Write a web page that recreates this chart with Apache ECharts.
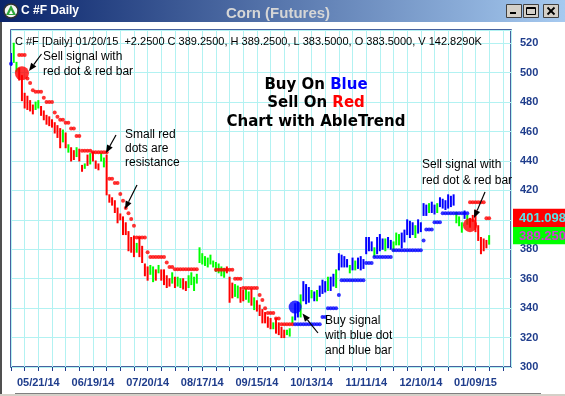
<!DOCTYPE html>
<html><head><meta charset="utf-8">
<script src="https://cdn.jsdelivr.net/npm/echarts@6/dist/echarts.min.js"></script>
<style>html,body{margin:0;padding:0;background:#fff;overflow:hidden}#c{width:565px;height:396px}</style>
</head><body><div id="c"></div>
<script>
// ---- tick labels ----
const xLabels = ['05/21/14','06/19/14','07/20/14','08/17/14','09/15/14','10/13/14','11/11/14','12/10/14','01/09/15'];
const firstLabelIndex = 10;
const labelStep = 20;

// ---- daily bars (high / low / colour: r = sell, g = neutral, b = buy) ----
const barHigh = [
513,520,507,503,498,486,484,481,478,480,
481,477,474,471,470,468,466,464,462,461,
459,451,449,447,449,448,437,438,444,445,
446,440,438,445,442,444,417,415,413,408,
404,402,398,392,388,389,384,388,382,370,
368,369,368,366,369,366,366,362,360,364,
361,361,360,360,358,362,364,361,363,381,
377,375,374,376,372,371,370,368,367,368,
361,357,356,355,354,352,353,351,353,347,
345,342,339,337,334,333,330,333,330,327,
325,325,326,334,343,344,349,358,356,354,
352,351,352,355,359,358,361,361,363,366,
377,376,375,373,369,374,372,374,375,373,
388,388,385,381,388,390,387,387,388,386,
385,391,390,391,393,400,399,398,396,400,
398,411,410,411,412,410,411,415,414,413,
417,416,417,405,402,398,406,403,401,403,
406.6,396,388,387,386,389.25];
const barLow = [
505,507,501,495,481,476,475,474,472,475,
476,471,468,465,464,463,459,456,449,453,
449,446,440,441,443,440,433,435,437,438,
440,435,434,440,436,417,412,410,405,398,
400,390,390,379,378,375,378,375,371,362,
359,363,358,359,364,359,356,354,355,357,
354,355,354,353,352,354,356,352,357,371,
370,369,368,370,368,365,364,362,361,364,
344,347,348,347,344,345,346,344,342,339,
338,335,330,330,327,326,326,323,322,320,
320,322,321,330,332,334,334,345,343,344,
347,345,345,348,350,351,352,352,355,354,
366,368,368,368,364,366,366,367,366,367,
377,379,379,375,377,379,380,379,381,380,
379,383,383,381,385,390,388,390,388,391,
392,403,403,405,405,404,405,409,408,407,
408,409,410,398,396,391.6,401,397,395,399,
392,386,377,379,381,383.5];
const barColor = ('bggrrrrrrg'+'grrrrrrrrg'+'rgrrgrrgrg'+'rrrggrrrrr'+'rrrrrrgrrr'+
  'rggrgrrrrg'+'rggrrggggg'+'gggggggggr'+'rrggrrggrg'+'rrrrrrgrrr'+
  'rgggbbgbbb'+'gbgbbbgbbg'+'bbbbgbgbbb'+'bbbgbbbgbb'+'gggbbbbbgb'+
  'bbbgbbgbbb'+'bbbgggbgrr'+'rrrrrg').split('');

// ---- AbleTrend stop dots (value per bar, colour per bar) ----
const stopValue = [
506,null,null,512,512,512,496,493,488,487,
487,487,483,480,480,480,473,470,468,468,
466,466,462,462,457,457,447,447,447,447,
446,446,446,446,446,446,428,428,425,425,
417.5,413,408,404.5,400.5,396,388,388,388,388,
378,374.7,374.7,374.7,374.7,374.7,374.7,371,368,368,
366.5,366.5,366.5,366.5,366.5,366.5,366.5,366.5,366.5,null,
null,null,null,null,null,366,366,366,366,366,
366,366,360,360,360,353.6,353.6,353.6,353.6,353.6,
353.6,349,345.5,340,336.7,336.7,336.7,333,333,329,
329,329,329,329,329,329,329,329,329,329,
329,329,329,329,334,334,340,340,340,340,
349,359,359,359,359,359,359,359,359,359,
370.6,370.6,370.6,374.7,374.7,374.7,374.7,374.7,374.7,374.7,
379.4,379.4,379.4,379.4,379.4,379.4,379.4,379.4,379.4,379.4,
379.4,386,393.5,393.5,393.5,398.4,398.4,398.4,404.5,404.5,
404.5,404.5,404.5,404.5,404.5,404.5,404.5,404.5,412,412,
412,412,412,412,401.1,401.1];
const stopColor = ('b..rrrrrrr'+'rrrrrrrrrr'+'rrrrrrrrrr'+'rrrrrrrrrr'+'rrrrrrrrrr'+
  'rrrrrrrrrr'+'rrrrrrrrr.'+'.....rrrrr'+'rrrrrrrrrr'+'rrrrrrrrrr'+
  'rrrrbbbbbb'+'bbbbbbbbbb'+'bbbbbbbbbb'+'bbbbbbbbbb'+'bbbbbbbbbb'+
  'bbbbbbbbbb'+'bbbbbbbbrr'+'rrrrrr').split('');

// ---- signals [bar index, price] ----
const sellSignals = [[4, 499.6], [168, 396.4]];
const buySignals = [[104, 340.7]];
const lastStop = 401.098;
const lastClose = 389.25;

const COL = {r:'#ff0000', g:'#00ff00', b:'#0000ff'};
const AX = '#1f3d8c';
const FONT = '"Liberation Sans", Arial, sans-serif';

const barData = barHigh.map((h, i) => [i, h, barLow[i]]);
const redDots = [], blueDots = [];
stopValue.forEach((v, i) => { if (v == null) return; (stopColor[i] === 'r' ? redDots : blueDots).push([i, v]); });

function renderBar(params, api) {
  const i = api.value(0);
  const hi = api.coord([i, api.value(1)]);
  const lo = api.coord([i, api.value(2)]);
  return {type:'line', shape:{x1:hi[0], y1:hi[1]-0.5, x2:lo[0], y2:lo[1]+0.5},
    style:{stroke: COL[barColor[params.dataIndex]], lineWidth: 2}};
}

const chart = echarts.init(document.getElementById('c'), null, {renderer:'canvas', width:565, height:396});
chart.setOption({
  animation:false,
  backgroundColor:'#ffffff',
  grid:{left:11, right:54, top:30, bottom:29, show:true, borderColor:'#0b2f80', borderWidth:1.5,
        backgroundColor:'transparent', outerBoundsMode:'none', containLabel:false},
  xAxis:{type:'value', min:0, max:183, interval:5,
    axisLine:{show:false},
    axisTick:{show:true, length:4, lineStyle:{color:AX}},
    splitLine:{show:true, lineStyle:{color:'#b2f2f2', width:1}},
    axisLabel:{color:AX, fontFamily:FONT, fontWeight:'bold', fontSize:11, margin:10, showMaxLabel:false,
      formatter: v => { const k = (v - firstLabelIndex) / labelStep; return (Number.isInteger(k) && k >= 0 && k < xLabels.length) ? xLabels[k] : ''; }}},
  yAxis:{type:'value', position:'right', min:300, max:529, interval:20,
    axisLine:{show:false}, axisTick:{show:false},
    splitLine:{show:true, lineStyle:{color:'#b2f2f2', width:1}},
    axisLabel:{color:AX, fontFamily:FONT, fontWeight:'bold', fontSize:11, margin:9,
      formatter: v => (v % 20 === 0 ? String(v) : '')}},
  series:[
    {type:'custom', renderItem:renderBar, data:barData, clip:true, z:3, silent:true},
    {type:'scatter', data:redDots, symbolSize:4, itemStyle:{color:'#ff0000'}, z:4, silent:true},
    {type:'scatter', data:blueDots, symbolSize:4, itemStyle:{color:'#0000ff'}, z:4, silent:true},
    {type:'scatter', data:sellSignals, symbolSize:14, itemStyle:{color:'#ff0000'}, z:5, silent:true},
    {type:'scatter', data:buySignals, symbolSize:13, itemStyle:{color:'#0000ff'}, z:5, silent:true}
  ]
});

function txt(x, y, s, font, fill, align) {
  return {type:'text', x:x, y:y, z:60, silent:true,
    style:{text:s, font:font, fill:fill || '#000', align:align || 'left', verticalAlign:'middle'}};
}
function arrow(x1, y1, x2, y2) {
  const a = Math.atan2(y2 - y1, x2 - x1), L = 8, W = 3.2;
  const bx = x2 - L * Math.cos(a), by = y2 - L * Math.sin(a);
  const px = -Math.sin(a) * W, py = Math.cos(a) * W;
  return [
    {type:'line', z:60, silent:true, shape:{x1:x1, y1:y1, x2:bx, y2:by}, style:{stroke:'#000', lineWidth:1.2}},
    {type:'polygon', z:60, silent:true, shape:{points:[[x2, y2], [bx + px, by + py], [bx - px, by - py]]}, style:{fill:'#000'}}
  ];
}

const g = [];
// window title bar
g.push({type:'rect', z:50, silent:true, shape:{x:0, y:0, width:565, height:22},
  style:{fill:new echarts.graphic.LinearGradient(0, 0, 1, 0, [{offset:0, color:'#0a246a'}, {offset:1, color:'#a6caf0'}])}});
g.push({type:'circle', z:51, silent:true, shape:{cx:11, cy:11, r:7}, style:{fill:'#f4f4f4', stroke:'#303030', lineWidth:1.5}});
g.push({type:'polygon', z:52, silent:true, shape:{points:[[11, 5], [6, 15], [16, 15]]}, style:{fill:'#2ea83a'}});
g.push({type:'polygon', z:53, silent:true, shape:{points:[[11, 10], [9, 14], [13, 14]]}, style:{fill:'#ffffff'}});
g.push(txt(21, 11, 'C #F Daily', 'bold 12px ' + FONT, '#ffffff'));
g.push(txt(278, 14, 'Corn (Futures)', 'bold 15px ' + FONT, '#d6d6d6', 'center'));
[506, 523, 543].forEach((bx, k) => {
  g.push({type:'rect', z:51, silent:true, shape:{x:bx + 0.5, y:4.5, width:15, height:13}, style:{fill:'#d4d0c8', stroke:'#404040', lineWidth:1}});
  if (k === 0) g.push({type:'rect', z:52, silent:true, shape:{x:bx + 4, y:12, width:6, height:2}, style:{fill:'#000'}});
  if (k === 1) g.push({type:'rect', z:52, silent:true, shape:{x:bx + 3.5, y:7.5, width:9, height:7}, style:{fill:'none', stroke:'#000', lineWidth:1}},
                      {type:'line', z:52, silent:true, shape:{x1:bx + 3.5, y1:8.5, x2:bx + 12.5, y2:8.5}, style:{stroke:'#000', lineWidth:1}});
  if (k === 2) g.push({type:'line', z:52, silent:true, shape:{x1:bx + 4.5, y1:7.5, x2:bx + 11.5, y2:14.5}, style:{stroke:'#000', lineWidth:1.8}},
                      {type:'line', z:52, silent:true, shape:{x1:bx + 11.5, y1:7.5, x2:bx + 4.5, y2:14.5}, style:{stroke:'#000', lineWidth:1.8}});
});
// window edges
g.push({type:'line', z:50, silent:true, shape:{x1:1, y1:22, x2:1, y2:396}, style:{stroke:'#505050', lineWidth:2}});
g.push({type:'line', z:50, silent:true, shape:{x1:15, y1:393.5, x2:541, y2:393.5}, style:{stroke:'#808080', lineWidth:1}});
g.push({type:'rect', z:50, silent:true, shape:{x:0, y:394, width:565, height:2}, style:{fill:'#d4d0c8'}});

// header line
g.push(txt(15, 42, 'C #F [Daily] 01/20/15  +2.2500 C 389.2500, H 389.2500, L 383.5000, O 383.5000, V 142.8290K', '11px ' + FONT, '#000'));

// annotations
const f12 = '12px ' + FONT;
g.push(txt(43, 57, 'Sell signal with', f12), txt(43, 72, 'red dot & red bar', f12));
g.push(...arrow(41.5, 54, 29, 71));
g.push(txt(125, 135, 'Small red', f12), txt(125, 149, 'dots are', f12), txt(125, 163, 'resistance', f12));
g.push(...arrow(116, 135, 106, 153));
g.push(...arrow(137, 185, 125, 209));
g.push(txt(422, 165, 'Sell signal with', f12), txt(422, 181, 'red dot & red bar', f12));
g.push(...arrow(485, 192, 474, 218));
g.push(txt(325, 321, 'Buy signal', f12), txt(325, 336, 'with blue dot', f12), txt(325, 351, 'and blue bar', f12));
g.push(...arrow(318, 333, 302.5, 313.5));

// headline
function rich(y, a, b, bc) {
  const base = {fontFamily:'"DejaVu Sans", Verdana, sans-serif', fontSize:15, fontWeight:'bold'};
  return {type:'text', x:316, y:y, z:60, silent:true, style:{text:'{a|' + a + '}' + (b ? '{b|' + b + '}' : ''),
    align:'center', verticalAlign:'middle',
    rich:{a:Object.assign({fill:'#000'}, base), b:Object.assign({fill:bc}, base)}}};
}
g.push(rich(85, 'Buy On ', 'Blue', '#0000ff'));
g.push(rich(103.5, 'Sell On ', 'Red', '#ff0000'));
g.push(rich(122.5, 'Chart with AbleTrend', '', '#000'));

// price tags on the right axis
const yS = chart.convertToPixel({yAxisIndex:0}, lastStop);
const yC = chart.convertToPixel({yAxisIndex:0}, lastClose);
const mid = (yS + yC) / 2;
g.push({type:'rect', z:70, silent:true, shape:{x:513, y:yS - 9.5, width:52, height:mid - (yS - 9.5)}, style:{fill:'#ff0000'}});
g.push({type:'rect', z:70, silent:true, shape:{x:513, y:mid, width:52, height:(yC + 8.5) - mid}, style:{fill:'#00ff00'}});
const tagF = 'bold 13px ' + FONT;
g.push(Object.assign(txt(519, yS, lastStop.toFixed(3), tagF, '#55e4ea'), {z:71}));
g.push(Object.assign(txt(519, yC + 0.5, lastClose.toFixed(3), tagF, '#d838d8'), {z:71}));

chart.setOption({graphic:g});
</script>
</body></html>
